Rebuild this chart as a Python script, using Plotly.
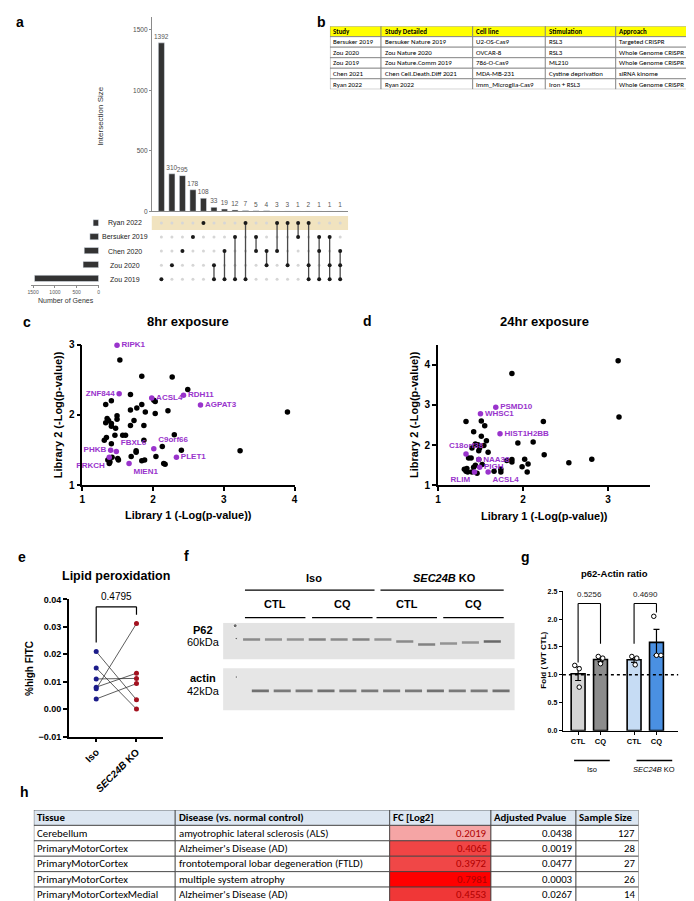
import plotly.graph_objects as go
from plotly.colors import sample_colorscale

W, H = 694, 901
FONT = "Liberation Sans, Arial, sans-serif"
NARROW = "Carlito, Liberation Sans Narrow, Liberation Sans, sans-serif"
PURPLE = "#9933cc"

# ---------------- a: UpSet ----------------
set_names = ["Zou 2019", "Zou 2020", "Chen 2020", "Bersuker 2019", "Ryan 2022"]
set_sizes = [1468, 354, 328, 198, 124]
inter_sizes = [1392, 310, 295, 178, 108, 33, 19, 12, 7, 5, 4, 3, 3, 1, 2, 1, 1, 1]
inter_sets = [
    ["Zou 2019"], ["Zou 2020"], ["Chen 2020"], ["Bersuker 2019"], ["Ryan 2022"],
    ["Zou 2020", "Zou 2019"], ["Chen 2020", "Zou 2019"], ["Bersuker 2019", "Zou 2019"],
    ["Ryan 2022", "Zou 2019"], ["Bersuker 2019", "Chen 2020"], ["Chen 2020", "Zou 2020"],
    ["Ryan 2022", "Chen 2020"], ["Ryan 2022", "Zou 2020"], ["Ryan 2022", "Bersuker 2019"],
    ["Ryan 2022", "Zou 2020", "Zou 2019"], ["Bersuker 2019", "Chen 2020", "Zou 2019"],
    ["Bersuker 2019", "Zou 2020", "Zou 2019"], ["Chen 2020", "Zou 2020", "Zou 2019"],
]

# ---------------- b: study table ----------------
b_header = ["Study", "Study Detailed", "Cell line", "Stimulation", "Approach"]
b_study = ["Bersuker 2019", "Zou 2020", "Zou 2019", "Chen 2021", "Ryan 2022"]
b_detailed = ["Bersuker Nature 2019", "Zou Nature 2020", "Zou Nature.Comm 2019",
              "Chen Cell.Death.Diff 2021", "Ryan 2022"]
b_cell = ["U2-OS-Cas9", "OVCAR-8", "786-O-Cas9", "MDA-MB-231", "Imm_Microglia-Cas9"]
b_stim = ["RSL3", "RSL3", "ML210", "Cystine deprivation", "Iron + RSL3"]
b_approach = ["Targeted CRISPR", "Whole Genome CRISPR", "Whole Genome CRISPR",
              "siRNA kinome", "Whole Genome CRISPR"]

# ---------------- c: 8hr exposure ----------------
c_x = [1.68, 1.33, 1.41, 1.84, 1.77, 1.68, 1.89, 2.01, 2.03, 2.03, 2.21, 2.49, 3.90, 3.23,
       2.40, 2.30, 2.13, 2.04, 2.15, 2.17, 1.88, 1.84, 1.69, 1.76, 1.76, 1.87, 1.87, 1.73,
       1.68, 1.61, 1.57, 1.49, 1.49, 1.47, 1.46, 1.41, 1.41, 1.37, 1.35, 1.33, 1.34, 1.31,
       1.41, 1.42, 1.36, 1.50, 1.51, 1.39, 1.38, 1.53, 1.84, 2.27]
c_y = [2.29, 2.15, 2.20, 2.15, 2.10, 2.07, 2.04, 2.21, 2.19, 2.02, 2.06, 2.36, 2.04, 1.49,
       1.50, 1.72, 1.55, 1.41, 1.31, 1.30, 1.36, 1.35, 1.41, 1.49, 1.47, 1.64, 1.85, 1.92,
       1.85, 1.71, 1.71, 1.99, 1.94, 1.81, 1.71, 1.84, 1.88, 1.92, 1.95, 1.89, 1.68, 1.64,
       1.59, 1.40, 1.36, 1.38, 1.36, 1.33, 1.31, 2.78, 2.55, 2.54]
c_hits = ["RIPK1", "ZNF844", "ACSL4", "RDH11", "AGPAT3", "C9orf66", "PLET1", "PHKB",
          "FBXL6", "PRKCH", "MIEN1"]
c_hit_x = [1.49, 1.52, 1.98, 2.43, 2.67, 2.01, 2.33, 1.40, 1.48, 1.38, 1.66]
c_hit_y = [2.99, 2.30, 2.24, 2.28, 2.14, 1.52, 1.40, 1.50, 1.48, 1.40, 1.31]

# ---------------- d: 24hr exposure ----------------
d_x = [1.33, 1.42, 1.51, 1.55, 1.51, 1.57, 1.54, 1.59, 1.44, 1.47, 1.49, 1.48, 1.40, 1.36,
       1.39, 1.48, 1.52, 1.44, 1.42, 1.34, 1.31, 1.33, 1.35, 1.40, 1.46, 1.66, 1.74, 1.74,
       1.81, 1.87, 1.87, 1.94, 2.12, 2.24, 2.25, 1.99, 2.02, 2.06, 2.05, 2.54, 2.81, 3.13,
       1.87, 3.12]
d_y = [2.59, 2.33, 2.60, 2.48, 2.22, 2.11, 1.99, 1.82, 2.03, 2.01, 1.93, 1.86, 1.93, 1.68,
       1.68, 1.64, 1.52, 1.50, 1.45, 1.42, 1.40, 1.35, 1.33, 1.33, 1.30, 1.35, 1.40, 1.33,
       1.62, 1.64, 1.58, 2.05, 2.08, 2.59, 1.76, 1.46, 1.65, 1.53, 1.33, 1.56, 1.65, 2.70,
       3.78, 4.10]
d_hits = ["PSMD10", "WHSC1", "HIST1H2BB", "C18orf38", "NAA38", "PIGH", "RLIM", "ACSL4"]
d_hit_x = [1.68, 1.50, 1.73, 1.33, 1.48, 1.49, 1.43, 1.59]
d_hit_y = [2.94, 2.78, 2.28, 1.78, 1.64, 1.45, 1.33, 1.33]

# ---------------- e: lipid peroxidation ----------------
e_iso = [0.021, 0.015, 0.011, 0.008, 0.0074, 0.0037]
e_ko = [0.0034, 0.0000, 0.0112, 0.0131, 0.0312, 0.0093]
e_p = "0.4795"

# ---------------- f: western blot ----------------
f_lanes = list(range(1, 13))
f_p62_int = [0.55, 0.5, 0.5, 0.6, 0.55, 0.6, 0.5, 0.55, 0.6, 0.5, 0.5, 0.75]
f_p62_pos = [17, 17, 17, 17, 17, 17, 17, 19, 22, 21, 20, 19]
f_actin_int = [0.7, 0.65, 0.65, 0.7, 0.65, 0.65, 0.65, 0.65, 0.7, 0.65, 0.65, 0.7]
f_actin_pos = [69, 69, 69, 69, 69, 69, 69, 69, 69, 69, 69, 69]

# ---------------- g: p62-Actin ratio ----------------
g_labels = ["CTL", "CQ", "CTL", "CQ"]
g_points = [[1.17, 1.11, 0.78], [1.33, 1.30, 1.20], [1.33, 1.30, 1.18], [2.05, 1.35, 1.35]]
g_pvals = ["0.5256", "0.4690"]

# ---------------- h: disease table ----------------
h_header = ["Tissue", "Disease (vs. normal control)", "FC [Log2]", "Adjusted Pvalue", "Sample Size"]
h_tissue = ["Cerebellum", "PrimaryMotorCortex", "PrimaryMotorCortex", "PrimaryMotorCortex",
            "PrimaryMotorCortexMedial"]
h_disease = ["amyotrophic lateral sclerosis (ALS)", "Alzheimer's Disease (AD)",
             "frontotemporal lobar degeneration (FTLD)", "multiple system atrophy",
             "Alzheimer's Disease (AD)"]
h_fc = [0.2019, 0.4065, 0.3972, 0.7981, 0.4553]
h_padj = [0.0438, 0.0019, 0.0477, 0.0003, 0.0267]
h_n = [127, 28, 27, 26, 14]


def xd(p0, p1):
    return [p0 / W, p1 / W]


def yd(top, bot):
    return [1 - bot / H, 1 - top / H]


annotations = []
shapes = []


def ann(text, x, y, size=10, bold=False, color="black", xa="center", ya="middle",
        angle=0, family=FONT):
    annotations.append(dict(
        text=text, x=x / W, y=1 - y / H, xref="paper", yref="paper",
        xanchor=xa, yanchor=ya, textangle=angle, showarrow=False,
        font=dict(family=family, size=size, color=color,
                  weight="bold" if bold else "normal")))


def pline(x0, y0, x1, y1, color="black", width=1.2, dash="solid"):
    shapes.append(dict(type="line", xref="paper", yref="paper",
                       x0=x0 / W, x1=x1 / W, y0=1 - y0 / H, y1=1 - y1 / H,
                       line=dict(color=color, width=width, dash=dash)))


def draw_table(ax, widths, header, columns, header_fill, cell_fills, font_colors,
               aligns, size, line_color):
    """Table drawn on a hidden axis: x in column-width units, y in row index."""
    xr, yr = "x" + ax, "y" + ax
    edges = [0]
    for w in widths:
        edges.append(edges[-1] + w)
    n = len(columns[0])
    rows = [[f"<b>{h}</b>" for h in header]] + [[str(col[i]) for col in columns] for i in range(n)]
    for r, row in enumerate(rows):
        for c, txt in enumerate(row):
            fill = header_fill if r == 0 else cell_fills[c][r - 1]
            shapes.append(dict(type="rect", xref=xr, yref=yr, x0=edges[c], x1=edges[c + 1],
                               y0=r, y1=r + 1, fillcolor=fill,
                               line=dict(color=line_color, width=0.8), layer="below"))
            al = "left" if r == 0 else aligns[c]
            xpos = edges[c] + 1.5 if al == "left" else edges[c + 1] - 1.5
            col = "black" if r == 0 else font_colors[c][r - 1]
            annotations.append(dict(text=txt, x=xpos, y=r + 0.5, xref=xr, yref=yr,
                                    xanchor=al, yanchor="middle", showarrow=False,
                                    font=dict(family=NARROW, size=size, color=col)))
    return edges[-1], len(rows)


fig = go.Figure()

# ===== a: intersection bars =====
n_int = len(inter_sizes)
fig.add_trace(go.Bar(
    x=list(range(n_int)), y=inter_sizes, width=0.58, marker_color="#333333",
    text=inter_sizes, textposition="outside", cliponaxis=False, constraintext="none",
    textfont=dict(size=6.5, color="#555555", family=FONT),
    xaxis="x", yaxis="y", showlegend=False))

# matrix
yrow = {name: i for i, name in enumerate(set_names)}
bg_x, bg_y, on_x, on_y, ln_x, ln_y = [], [], [], [], [], []
for j, members in enumerate(inter_sets):
    rows = sorted(yrow[m] for m in members)
    for i in range(len(set_names)):
        if i in rows:
            on_x.append(j)
            on_y.append(i)
        else:
            bg_x.append(j)
            bg_y.append(i)
    if len(rows) > 1:
        ln_x += [j, j, None]
        ln_y += [rows[0], rows[-1], None]
fig.add_trace(go.Scatter(x=bg_x, y=bg_y, mode="markers", marker=dict(size=3, color="#d6d6d6"),
                         xaxis="x2", yaxis="y2", showlegend=False))
fig.add_trace(go.Scatter(x=ln_x, y=ln_y, mode="lines", line=dict(color="#4a4a4a", width=1.3),
                         xaxis="x2", yaxis="y2", showlegend=False))
fig.add_trace(go.Scatter(x=on_x, y=on_y, mode="markers", marker=dict(size=4, color="#1a1a1a"),
                         xaxis="x2", yaxis="y2", showlegend=False))

# set sizes
fig.add_trace(go.Bar(
    x=set_sizes, y=list(range(len(set_names))), orientation="h", width=0.45,
    marker_color="#333333", xaxis="x3", yaxis="y3", showlegend=False))

# ===== c & d scatter =====
fig.add_trace(go.Scatter(x=c_x, y=c_y, mode="markers", marker=dict(size=5.5, color="black"),
                         xaxis="x4", yaxis="y4", showlegend=False, cliponaxis=False))
c_pos = ["middle right", "middle left", "middle right", "middle right", "middle right",
         "top right", "middle right", "middle left", "top right", "bottom left", "bottom right"]
fig.add_trace(go.Scatter(
    x=c_hit_x, y=c_hit_y, mode="markers+text", text=c_hits, textposition=c_pos,
    marker=dict(size=5.5, color=PURPLE),
    textfont=dict(size=8, color=PURPLE, family=FONT, weight="bold"),
    xaxis="x4", yaxis="y4", showlegend=False, cliponaxis=False))

fig.add_trace(go.Scatter(x=d_x, y=d_y, mode="markers", marker=dict(size=5.5, color="black"),
                         xaxis="x5", yaxis="y5", showlegend=False, cliponaxis=False))
d_pos = ["middle right", "middle right", "middle right", "top center", "middle right",
         "middle right", "bottom left", "bottom right"]
fig.add_trace(go.Scatter(
    x=d_hit_x, y=d_hit_y, mode="markers+text", text=d_hits, textposition=d_pos,
    marker=dict(size=5.5, color=PURPLE),
    textfont=dict(size=8, color=PURPLE, family=FONT, weight="bold"),
    xaxis="x5", yaxis="y5", showlegend=False, cliponaxis=False))

# ===== e paired =====
for a, b in zip(e_iso, e_ko):
    fig.add_trace(go.Scatter(x=[0, 1], y=[a, b], mode="lines",
                             line=dict(color="#333333", width=0.8),
                             xaxis="x6", yaxis="y6", showlegend=False))
fig.add_trace(go.Scatter(x=[0] * len(e_iso), y=e_iso, mode="markers",
                         marker=dict(size=5, color="#1c1c8a"), xaxis="x6", yaxis="y6",
                         showlegend=False, cliponaxis=False))
fig.add_trace(go.Scatter(x=[1] * len(e_ko), y=e_ko, mode="markers",
                         marker=dict(size=5, color="#a3121f"), xaxis="x6", yaxis="y6",
                         showlegend=False, cliponaxis=False))


# ===== f blot =====
def band_colors(vals):
    out = []
    for v in vals:
        g = int(232 - 170 * v)
        out.append(f"rgb({g},{g},{g})")
    return out


fig.add_trace(go.Bar(x=f_lanes, y=[2.6] * 12, base=[p - 1.3 for p in f_p62_pos], width=0.78,
                     marker=dict(color=band_colors(f_p62_int), line_width=0),
                     xaxis="x7", yaxis="y7", showlegend=False))
fig.add_trace(go.Bar(x=f_lanes, y=[2.6] * 12, base=[p - 1.3 for p in f_actin_pos], width=0.78,
                     marker=dict(color=band_colors(f_actin_int), line_width=0),
                     xaxis="x7", yaxis="y7", showlegend=False))
fig.add_trace(go.Scatter(x=[0.05, 0.1, 0.1], y=[3, 16, 55], mode="markers",
                         marker=dict(size=[4, 2.5, 2.5], color="#333333"),
                         xaxis="x7", yaxis="y7", showlegend=False))

# ===== g bars =====
g_x = [0, 1, 2.5, 3.5]
g_mean = [sum(p) / len(p) for p in g_points]
g_sem = []
for p, m in zip(g_points, g_mean):
    sd = (sum((v - m) ** 2 for v in p) / (len(p) - 1)) ** 0.5
    g_sem.append(sd / len(p) ** 0.5)
fig.add_trace(go.Bar(
    x=g_x, y=g_mean, width=0.62,
    marker=dict(color=["#d4d4d4", "#8c8c8c", "#c6dcf4", "#4a90e2"],
                line=dict(color="black", width=1.6)),
    error_y=dict(type="data", array=g_sem, color="black", thickness=1.2, width=3),
    xaxis="x8", yaxis="y8", showlegend=False))
g_jit = [[-0.15, 0.05, 0.05], [-0.1, 0.1, 0.0], [-0.1, 0.12, 0.05], [-0.12, 0.0, 0.2]]
px_, py_ = [], []
for xc, pts, jit in zip(g_x, g_points, g_jit):
    for v, j in zip(pts, jit):
        px_.append(xc + j)
        py_.append(v)
fig.add_trace(go.Scatter(x=px_, y=py_, mode="markers",
                         marker=dict(size=4.5, color="white", line=dict(color="black", width=1)),
                         xaxis="x8", yaxis="y8", showlegend=False, cliponaxis=False))

# ===== tables b and h =====
nb = len(b_study)
bw, bn = draw_table("9", [51.6, 92.4, 73.3, 71, 79], b_header,
                    [b_study, b_detailed, b_cell, b_stim, b_approach], "#ffff00",
                    [["white"] * nb] * 5, [["black"] * nb] * 5, ["left"] * 5, 6.9, "#7f7f7f")

fc_colors = sample_colorscale(
    [[0, "#ffd6d6"], [0.15, "#f5a3a3"], [0.42, "#f04848"], [0.52, "#f03535"], [1, "#ff0000"]],
    [(v - 0.1) / 0.7 for v in h_fc])
nh = len(h_tissue)
hw, hn = draw_table("10", [142.7, 216.4, 102.2, 85.8, 63.1], h_header,
                    [h_tissue, h_disease, [f"{v:.4f}" for v in h_fc],
                     [f"{v:.4f}" for v in h_padj], h_n], "#dce6f1",
                    [["white"] * nh, ["white"] * nh, fc_colors, ["white"] * nh, ["white"] * nh],
                    [["black"] * nh, ["black"] * nh, ["#b00000"] * nh, ["black"] * nh,
                     ["black"] * nh],
                    ["left", "left", "right", "right", "right"], 10.8, "#404040")

# ---------------- layout ----------------
gp = dict(showline=True, linecolor="black", linewidth=1.6, ticks="outside", ticklen=4,
          tickwidth=1.6, tickcolor="black", showgrid=False, zeroline=False,
          tickfont=dict(family=FONT, size=10, color="black", weight="bold"))
gp_base = {k: v for k, v in gp.items() if k not in ("tickfont", "ticklen", "linewidth", "tickwidth")}
hidden = dict(showline=False, showgrid=False, zeroline=False, showticklabels=False, ticks="")

layout = dict(
    width=W, height=H, margin=dict(l=0, r=0, t=0, b=0),
    paper_bgcolor="white", plot_bgcolor="rgba(0,0,0,0)", font=dict(family=FONT),
    showlegend=False,
    # a
    xaxis=dict(domain=xd(142, 340), range=[-0.915, 17.75], showline=True, linecolor="#8a8a8a",
               linewidth=0.8, showgrid=False, zeroline=False, showticklabels=False, ticks=""),
    yaxis=dict(domain=yd(3, 200), range=[0, 1606], anchor="x", showline=True,
               linecolor="#8a8a8a", linewidth=0.8, showgrid=False, zeroline=False,
               ticks="outside", ticklen=2, tickcolor="#8a8a8a",
               tickvals=[0, 500, 1000, 1500],
               tickfont=dict(size=6.5, color="#4d4d4d", family=FONT)),
    xaxis2=dict(domain=xd(142, 340), range=[-0.915, 17.75], anchor="y2", **hidden),
    yaxis2=dict(domain=yd(204.6, 276), range=[-0.5, 4.5], anchor="x2", **hidden),
    xaxis3=dict(domain=xd(20, 89), range=[1552, -16], anchor="y3", showline=True,
                linecolor="#8a8a8a", linewidth=0.8, showgrid=False, zeroline=False,
                ticks="outside", ticklen=2, tickcolor="#8a8a8a",
                tickvals=[1500, 1000, 500, 0],
                tickfont=dict(size=5, color="#555555", family=FONT)),
    yaxis3=dict(domain=yd(204.6, 275), range=[-0.5, 4.5], anchor="x3", **hidden),
    # c
    xaxis4=dict(domain=xd(72, 286), range=[1, 4], dtick=1, anchor="y4", **gp),
    yaxis4=dict(domain=yd(335, 477.7), range=[1, 3], dtick=1, anchor="x4", **gp),
    # d
    xaxis5=dict(domain=xd(430.7, 645), range=[1, 3.5], tickvals=[1, 2, 3], anchor="y5", **gp),
    yaxis5=dict(domain=yd(335, 477.7), range=[1, 4.5], tickvals=[1, 2, 3, 4], anchor="x5", **gp),
    # e
    xaxis6=dict(domain=xd(58.3, 153), range=[-0.68, 1.65], anchor="y6", tickvals=[0, 1],
                ticktext=["<b>Iso</b>", "<b><i>SEC24B</i> KO</b>"], tickangle=-45,
                ticklen=4, linewidth=1.6, tickwidth=1.6, **gp_base,
                tickfont=dict(family=FONT, size=10, color="black")),
    yaxis6=dict(domain=yd(593.3, 732.3), range=[-0.01, 0.04], anchor="x6",
                tickvals=[-0.01, 0, 0.01, 0.02, 0.03, 0.04], tickformat=".2f",
                ticklen=4, linewidth=1.6, tickwidth=1.6, **gp_base,
                tickfont=dict(family=FONT, size=9, color="black", weight="bold")),
    # f
    xaxis7=dict(domain=xd(214, 508), range=[-0.5, 12.82], anchor="y7", **hidden),
    yaxis7=dict(domain=yd(617, 706), range=[89, 0], anchor="x7", **hidden),
    # g
    xaxis8=dict(domain=xd(556.7, 673), range=[-0.68, 4.47], anchor="y8", tickvals=g_x,
                ticktext=g_labels, ticklen=3, linewidth=1.3, tickwidth=1.2, **gp_base,
                tickfont=dict(family=FONT, size=7.5, color="black", weight="bold")),
    yaxis8=dict(domain=yd(585, 726.3), range=[0, 2.5], dtick=0.5, tickformat=".1f",
                anchor="x8", ticklen=3, linewidth=1.3, tickwidth=1.2, **gp_base,
                tickfont=dict(family=FONT, size=7, color="black", weight="bold")),
    # tables
    xaxis9=dict(domain=xd(321.7, 689), range=[0, bw], anchor="y9", **hidden),
    yaxis9=dict(domain=yd(12.3, 76.3), range=[bn, 0], anchor="x9", **hidden),
    xaxis10=dict(domain=xd(23, 633), range=[0, hw], anchor="y10", **hidden),
    yaxis10=dict(domain=yd(806.7, 900.5), range=[hn, 0], anchor="x10", **hidden),
)

# a: band behind Ryan row
shapes.append(dict(type="rect", xref="x2 domain", yref="y2", x0=0, x1=1, y0=3.5, y1=4.5,
                   fillcolor="#f1e3bf", line_width=0, layer="below"))

# f: blot strips
shapes.append(dict(type="rect", xref="x7 domain", yref="y7", x0=0, x1=1, y0=0, y1=37,
                   fillcolor="#e3e3e3", line_width=0, layer="below"))
shapes.append(dict(type="rect", xref="x7 domain", yref="y7", x0=0, x1=1, y0=46, y1=89,
                   fillcolor="#e6e6e6", line_width=0, layer="below"))

# e bracket
for x0, y0, x1, y1 in [(0, 0.0243, 0, 0.0373), (0, 0.0373, 1, 0.0373), (1, 0.0373, 1, 0.0344)]:
    shapes.append(dict(type="line", xref="x6", yref="y6", x0=x0, x1=x1, y0=y0, y1=y1,
                       line=dict(color="black", width=1.2)))
annotations.append(dict(text=e_p, x=0.5, y=0.0385, xref="x6", yref="y6", showarrow=False,
                        yanchor="bottom", font=dict(family=FONT, size=10, color="black")))

# g dotted line, brackets
shapes.append(dict(type="line", xref="x8 domain", yref="y8", x0=0, x1=1, y0=1, y1=1,
                   line=dict(color="black", width=1.5, dash="dot")))
for (xl, xr, yl, yr), p in zip([(0, 1, 1.22, 1.56), (2.5, 3.5, 1.56, 2.12)], g_pvals):
    for x0, y0, x1, y1 in [(xl, yl, xl, 2.28), (xl, 2.28, xr, 2.28), (xr, 2.28, xr, yr)]:
        shapes.append(dict(type="line", xref="x8", yref="y8", x0=x0, x1=x1, y0=y0, y1=y1,
                           line=dict(color="black", width=1.1)))
    annotations.append(dict(text=p, x=(xl + xr) / 2, y=2.33, xref="x8", yref="y8",
                            showarrow=False, yanchor="bottom",
                            font=dict(family=FONT, size=8, color="#222222")))

# ---------------- texts ----------------
for t, x, y in [("a", 3, 8), ("b", 307, 8), ("c", 10, 312), ("d", 353, 311),
                ("e", 5, 550), ("f", 172, 549), ("g", 512, 550), ("h", 7, 788)]:
    ann(t, x, y, size=14, bold=True, xa="left")

# a
ann("Intersection Size", 90, 103, size=8, color="#333333", angle=-90)
ann("Number of Genes", 55, 290, size=7, color="#333333")
for name, i in yrow.items():
    ann(name, 114.5, 268.7 - i * 14.25, size=7, color="#222222")

# c
ann("8hr exposure", 179, 312, size=13, bold=True)
ann("Library 1 (-Log(p-value))", 179, 508, size=11, bold=True)
ann("Library 2 (-Log(p-value))", 47, 406, size=11, bold=True, angle=-90)
# d
ann("24hr exposure", 538, 312, size=13, bold=True)
ann("Library 1 (-Log(p-value))", 538, 509, size=11, bold=True)
ann("Library 2 (-Log(p-value))", 406, 406, size=11, bold=True, angle=-90)
# e
ann("Lipid peroxidation", 106, 570, size=12.5, bold=True)
ann("%high FITC", 18, 663, size=10, bold=True, angle=-90)

# f
ann("Iso", 306, 572, size=11, bold=True)
ann("<i>SEC24B</i> KO", 437, 572, size=11, bold=True)
pline(236, 584, 366.7, 584)
pline(372.7, 584, 497, 584)
for t, x0, x1 in [("CTL", 236, 297), ("CQ", 303.7, 364.7), ("CTL", 368.7, 429.7), ("CQ", 436, 497)]:
    ann(t, (x0 + x1) / 2, 598, size=11, bold=True)
    pline(x0, 611.7, x1, 611.7)
ann("P62", 194, 624, size=11, bold=True)
ann("60kDa", 213, 636, size=11, xa="right")
ann("actin", 194, 673, size=11, bold=True)
ann("42kDa", 213, 686, size=11, xa="right")

# g
ann("p62-Actin ratio", 609, 567, size=9.5, bold=True)
ann("Fold ( WT CTL)", 537, 655, size=8, bold=True, angle=-90)
pline(568, 756.7, 604, 756.7, width=1.5)
pline(631, 756.7, 667, 756.7, width=1.5)
ann("Iso", 586, 766, size=7.5)
ann("<i>SEC24B</i> KO", 649, 766, size=7.5)

layout["annotations"] = annotations
layout["shapes"] = shapes
fig.update_layout(**layout)
fig.write_html("out.html")
